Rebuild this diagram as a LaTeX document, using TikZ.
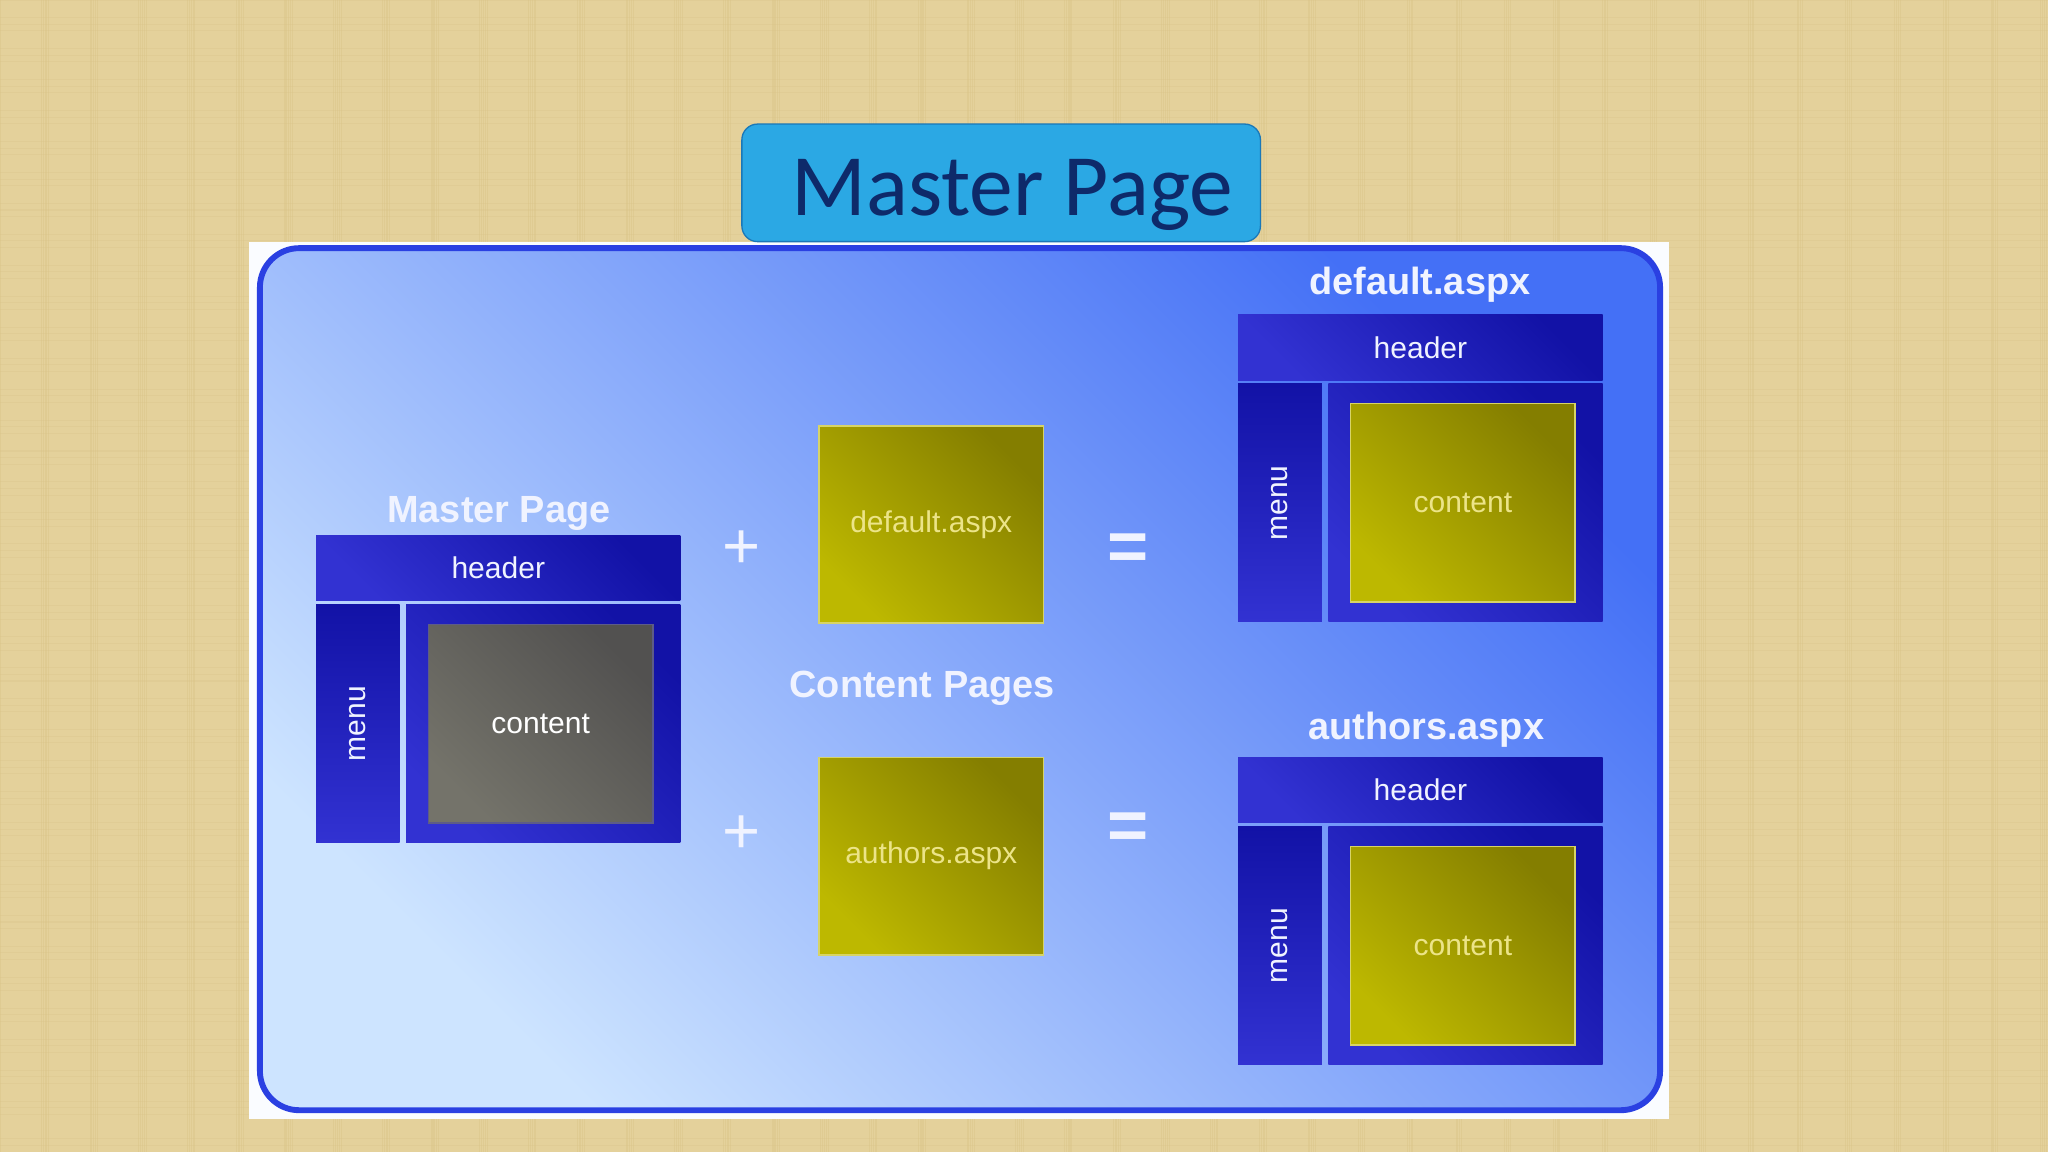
\documentclass[tikz,border=0pt]{standalone}
\usepackage{fontspec}
\setmainfont{Liberation Sans}
\newfontfamily\titlefont{Carlito}
\definecolor{bg}{HTML}{E4D19B}
\definecolor{bgdark}{HTML}{D8C084}
\definecolor{titlefill}{HTML}{2BA8E4}
\definecolor{titleedge}{HTML}{1A78B8}
\definecolor{titletext}{HTML}{0E2A6A}
\definecolor{panelborder}{HTML}{2A40E2}
\definecolor{panellight}{HTML}{CDE4FF}
\definecolor{paneldark}{HTML}{4470F6}
\definecolor{navyA}{HTML}{3232D2}
\definecolor{navyB}{HTML}{1212A6}
\definecolor{greyA}{HTML}{74736A}
\definecolor{greyB}{HTML}{525150}
\definecolor{yelA}{HTML}{BDB800}
\definecolor{yelB}{HTML}{847E00}
\definecolor{yeltext}{HTML}{ECE488}
\definecolor{labeltext}{HTML}{F0F3FF}
\tikzset{
  blk/.style={inner sep=0pt, outer sep=0pt},
  navyblk/.style={blk, left color=navyA, right color=navyB, shading angle=135, text=labeltext},
  greyblk/.style={blk, left color=greyA, right color=greyB, shading angle=135, draw=greyA!80!blue, line width=1.2pt, text=white},
  yelblk/.style={blk, left color=yelA, right color=yelB, shading angle=135, draw=yelA!60!white, line width=1.2pt, text=yeltext},
  smalltxt/.style={font=\fontsize{23}{26}\selectfont},
  biglabel/.style={font=\bfseries\fontsize{29}{32}\selectfont, text=labeltext},
  opsym/.style={font=\fontsize{50}{50}\selectfont, text=labeltext},
  eqsym/.style={font=\bfseries\fontsize{54}{54}\selectfont, text=labeltext},
}
% #1 name, #2 shift x, #3 shift y, #4 content style
\newcommand\pagelayout[4]{%
  \begin{scope}[shift={(#2,#3)}]
    \node[navyblk, smalltxt, minimum width=279pt, minimum height=50pt] (#1-header) at (381.5,435) {header};
    \node[navyblk, smalltxt, shading angle=180, minimum width=64pt, minimum height=182pt] (#1-menu) at (274,554) {\rotatebox{90}{menu}};
    \node[navyblk, minimum width=210pt, minimum height=182pt] (#1-area) at (416,554) {};
    \node[#4, smalltxt, minimum width=172pt, minimum height=152pt] (#1-content) at (414,554) {content};
  \end{scope}}
\begin{document}
\begin{tikzpicture}[x=1pt,y=-1pt]
\useasboundingbox (0,0) rectangle (1568,882);
\fill[bg] (0,0) rectangle (1568,882);
% faint texture
\foreach \i in {0,...,195} {
  \pgfmathsetmacro{\xx}{mod(\i*37.3,1568)}
  \draw[bgdark, opacity=0.35, line width=0.8pt] (\xx,0) -- (\xx,882);
}
\foreach \j in {0,...,110} {
  \pgfmathsetmacro{\yy}{mod(\j*23.7,882)}
  \draw[bgdark, opacity=0.25, line width=0.8pt] (0,\yy) -- (1568,\yy);
}
% panel
\fill[white!90!panellight] (191,185) rectangle (1278,857);
\draw[line width=4.5pt, draw=panelborder, rounded corners=30, left color=panellight, right color=paneldark, shading angle=135] (199,190) rectangle (1271,850);
% title
\node[blk, draw=titleedge, line width=1pt, fill=titlefill, rounded corners=12, minimum width=397pt, minimum height=90pt] (title) at (766.5,140) {};
\node[blk, anchor=base west, text=titletext, font=\titlefont\fontsize{67}{72}\selectfont] (titletext) at (606,165) {Master Page};
% labels
\node[biglabel] (mplabel) at (382,393) {Master Page};
\node[biglabel] (cplabel) at (706,527) {Content Pages};
\node[biglabel] (deflabel) at (1087,218) {default.aspx};
\node[biglabel] (authlabel) at (1092,559) {authors.aspx};
% layouts
\pagelayout{mp}{0}{0}{greyblk}
\pagelayout{def}{706}{-169}{yelblk}
\pagelayout{auth}{706}{170}{yelblk}
% content pages
\node[yelblk, smalltxt, minimum width=172pt, minimum height=151pt] (cpdef) at (713,401.5) {default.aspx};
\node[yelblk, smalltxt, minimum width=172pt, minimum height=151pt] (cpauth) at (713,655.5) {authors.aspx};
% operators
\node[opsym] (plus1) at (568,421) {+};
\node[opsym] (plus2) at (568,639) {+};
\node[eqsym] (eq1) at (864,423) {=};
\node[eqsym] (eq2) at (864,636) {=};
\end{tikzpicture}
\end{document}
